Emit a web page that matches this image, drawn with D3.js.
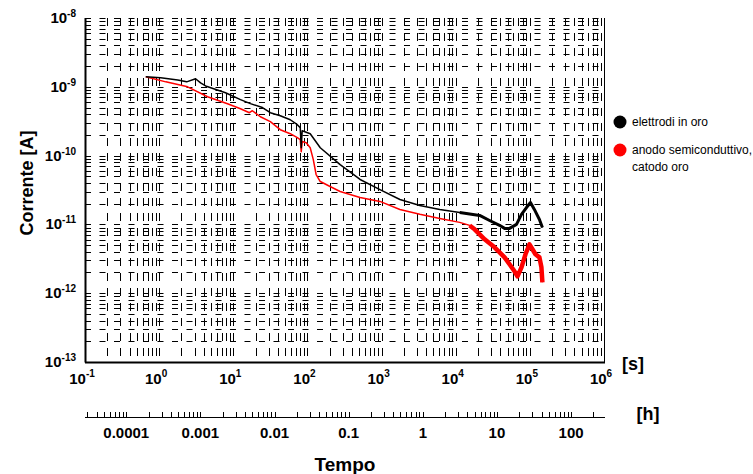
<!DOCTYPE html>
<html><head><meta charset="utf-8">
<script src="https://cdn.jsdelivr.net/npm/d3@7"></script>
<style>body{margin:0;background:#fff} svg{display:block} text{font-family:"Liberation Sans",Arial,Helvetica,sans-serif;font-weight:bold;fill:#000}</style>
</head><body><svg id="c" width="753" height="474"></svg>
<script>
// ---- data (time in seconds, current in amperes) ----
const blackT = [0.66,1.05,1.78,2.35,3.1,3.62,4.23,7.85,12.5,17,24.7,31.6,43,58.7,73,80,82.5,85,109,149,276,513,951,1767,3281,6095,11320,21030,28640,39000,45600,53200,66100,77100,90000,101900,115000,134600,147600];
const blackI = [1.40e-9,1.35e-9,1.26e-9,1.18e-9,1.31e-9,1.14e-9,1.03e-9,8.2e-10,6.5e-10,5.7e-10,5.0e-10,4.2e-10,3.8e-10,3.32e-10,2.81e-10,2.55e-10,1.30e-10,2.30e-10,2.08e-10,1.30e-10,7.4e-11,4.5e-11,3.2e-11,2.3e-11,1.88e-11,1.65e-11,1.49e-11,1.35e-11,1.14e-11,9.7e-12,8.75e-12,8.75e-12,1.0e-11,1.40e-11,1.76e-11,2.08e-11,1.65e-11,1.18e-11,9.0e-12];
const redT = [0.66,1.23,2.42,4.5,8.36,12.5,16.5,18.1,23.2,31.6,43,58.7,73,80,82.5,85,96.4,109,120,131,149,202,276,513,951,1767,3281,6095,11320,15420,17990,24530,33420,45600,53200,62090,68100,77100,87300,98800,108400,118900,134600,143200,147600];
const redI = [1.40e-9,1.18e-9,1.0e-9,7.16e-10,5.67e-10,4.80e-10,4.20e-10,4.49e-10,3.67e-10,3.11e-10,2.38e-10,2.08e-10,1.82e-10,1.71e-10,1.14e-10,1.60e-10,1.54e-10,1.30e-10,8.75e-11,5.31e-11,4.20e-11,3.56e-11,3.01e-11,2.46e-11,2.16e-11,1.65e-11,1.40e-11,1.22e-11,1.07e-11,9.67e-12,8.47e-12,6.06e-12,4.64e-12,3.32e-12,2.63e-12,2.08e-12,1.76e-12,2.38e-12,3.68e-12,5.13e-12,4.35e-12,3.68e-12,3.32e-12,2.38e-12,1.44e-12];
const seriesNames = ["elettrodi in oro", "anodo semiconduttivo,|catodo oro"];
const seriesColors = ["#000000", "#ff0000"];
const xExponents = [-1,0,1,2,3,4,5,6];
const yExponents = [-8,-9,-10,-11,-12,-13];
const hourLabels = ["0.0001","0.001","0.01","0.1","1","10","100"];
const hourLabelValues = [0.0001,0.001,0.01,0.1,1,10,100];
const noisyFrom = [11000, 15000]; // start of noisy (thick) part of each series, s

// ---- layout ----
const svg = d3.select("#c");
const L = 85, R = 604, T = 18, B = 362;
const x = d3.scaleLog().domain([0.1, 1e6]).range([L, R]);
const y = d3.scaleLog().domain([1e-13, 1e-8]).range([B, T]);
const xh = d3.scaleLog().domain([0.1/3600, 1e6/3600]).range([L, R]);

// grid
const g = svg.append("g");
g.selectAll("line.h").data(y.ticks()).join("line")
  .attr("x1", L).attr("x2", R).attr("y1", d => Math.round(y(d)) + 0.5).attr("y2", d => Math.round(y(d)) + 0.5)
  .attr("stroke", "#000").attr("stroke-width", 1).attr("stroke-dasharray", "6,8.5");
g.selectAll("line.v").data(x.ticks()).join("line")
  .attr("x1", d => Math.round(x(d)) + 0.5).attr("x2", d => Math.round(x(d)) + 0.5).attr("y1", T).attr("y2", B)
  .attr("stroke", "#000").attr("stroke-width", 1).attr("stroke-dasharray", "8,7");

// axes lines
svg.append("line").attr("x1", L+0.5).attr("x2", L+0.5).attr("y1", T).attr("y2", B+0.5).attr("stroke", "#000").attr("stroke-width", 2);
svg.append("line").attr("x1", L).attr("x2", R+1).attr("y1", B+0.5).attr("y2", B+0.5).attr("stroke", "#000").attr("stroke-width", 2);
svg.append("line").attr("x1", R+0.5).attr("x2", R+0.5).attr("y1", T).attr("y2", B).attr("stroke", "#000").attr("stroke-width", 1);

// y tick labels
yExponents.forEach(e => {
  const t = svg.append("text").attr("x", 76).attr("y", y(Math.pow(10, e)) + 5).attr("text-anchor", "end").style("font-size", "15px");
  t.append("tspan").text("10");
  t.append("tspan").attr("dy", -6).style("font-size", "10px").text(e);
});
// x tick labels
xExponents.forEach(e => {
  const t = svg.append("text").attr("x", x(Math.pow(10, e)) - 3).attr("y", 384).attr("text-anchor", "middle").style("font-size", "15px");
  t.append("tspan").text("10");
  t.append("tspan").attr("dy", -7).style("font-size", "10px").text(e);
});

// hour axis
const HY = 417;
svg.append("line").attr("x1", L).attr("x2", R+1).attr("y1", HY+0.5).attr("y2", HY+0.5).attr("stroke", "#000").attr("stroke-width", 1);
svg.selectAll("line.ht").data(xh.ticks()).join("line")
  .attr("x1", d => Math.round(xh(d)) + 0.5).attr("x2", d => Math.round(xh(d)) + 0.5).attr("y1", HY - 5).attr("y2", HY)
  .attr("stroke", "#000").attr("stroke-width", 1);
svg.selectAll("text.hl").data(hourLabelValues).join("text")
  .attr("x", d => xh(d)).attr("y", 438).attr("text-anchor", "middle").style("font-size", "15px")
  .text((d, i) => hourLabels[i]);

// axis titles
svg.append("text").attr("x", 633).attr("y", 370).attr("text-anchor", "middle").style("font-size", "18px").text("[s]");
svg.append("text").attr("x", 648).attr("y", 420).attr("text-anchor", "middle").style("font-size", "18px").text("[h]");
svg.append("text").attr("x", 345).attr("y", 471).attr("text-anchor", "middle").style("font-size", "19px").text("Tempo");
svg.append("text").attr("transform", "translate(33,183) rotate(-90)").attr("text-anchor", "middle").style("font-size", "18px").text("Corrente [A]");

// series
const line = d3.line().x(d => x(d[0])).y(d => y(d[1]));
const series = [
  d3.zip(blackT, blackI),
  d3.zip(redT, redI)
];
[1, 0].forEach(i => {
  svg.append("path").attr("d", line(series[i])).attr("fill", "none").attr("stroke", seriesColors[i]).attr("stroke-width", 1.5).attr("stroke-linejoin", "round");
  const noisy = series[i].filter(d => d[0] >= noisyFrom[i]);
  svg.append("path").attr("d", line(noisy)).attr("fill", "none").attr("stroke", seriesColors[i]).attr("stroke-width", i === 1 ? 4.5 : 3).attr("stroke-linejoin", "round");
});

// legend
const legY = [122, 150];
seriesNames.forEach((name, i) => {
  svg.append("circle").attr("cx", 620).attr("cy", legY[i]).attr("r", 6.5).attr("fill", seriesColors[i]);
  name.split("|").forEach((s, j) => {
    svg.append("text").attr("x", 632).attr("y", legY[i] + 4 + j * 17).style("font-size", "12px").style("font-weight", "normal").text(s);
  });
});
</script></body></html>
